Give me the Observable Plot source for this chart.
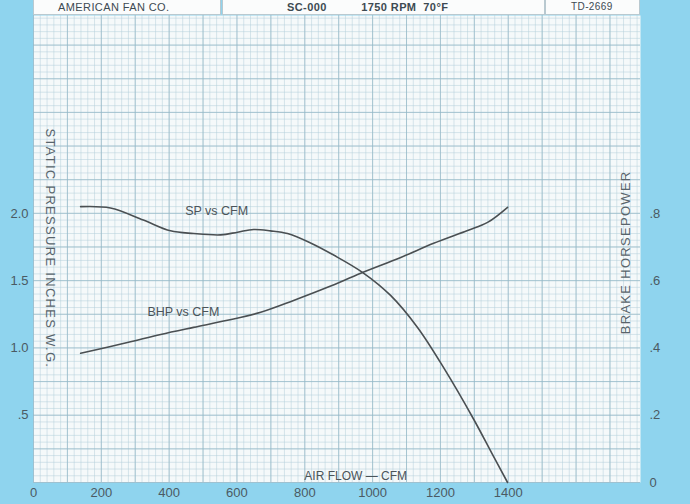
<!DOCTYPE html>
<html>
<head>
<meta charset="utf-8">
<script src="https://cdn.jsdelivr.net/npm/d3@7"></script>
<script src="https://cdn.jsdelivr.net/npm/@observablehq/plot@0.6"></script>
<style>
  html, body { margin: 0; padding: 0; background: #8fd4ee; }
  #wrap { position: relative; width: 690px; height: 504px; overflow: hidden; background: #8fd4ee; }
  #chart { position: absolute; left: 0; top: 0; }
  .hbox { position: absolute; top: 0; height: 15px; background: #fbfcfc; border: 1px solid #b9c9d0; border-top: none; box-sizing: border-box; }
  .hbox span { position: absolute; top: 1px; font: bold 11px/12px "Liberation Sans", Arial, sans-serif; color: #3d4a52; white-space: pre; letter-spacing: 0.4px; }
</style>
</head>
<body>
<div id="wrap">
  <div id="chart"></div>
  <div class="hbox" style="left:33px;width:188px;"><span style="left:24px;font-weight:normal;">AMERICAN FAN CO.</span></div>
  <div class="hbox" style="left:222px;width:323px;"><span style="left:64px;">SC-000          1750 RPM  70°F</span></div>
  <div class="hbox" style="left:545px;width:95px;"><span style="left:25px;font-weight:normal;font-size:10px;">TD-2669</span></div>
</div>
<script>
// Air flow (CFM) and static pressure (in. W.G.) for the SP vs CFM curve
const cfmSP = [139, 227, 324, 404, 472, 552, 602, 649, 699, 749, 817, 885, 971, 1053, 1133, 1209, 1298, 1351, 1398];
const sp    = [2.05, 2.04, 1.95, 1.87, 1.85, 1.84, 1.86, 1.88, 1.87, 1.85, 1.78, 1.69, 1.56, 1.39, 1.15, 0.855, 0.47, 0.22, 0.0];

// Air flow (CFM) and brake horsepower for the BHP vs CFM curve
const cfmBHP = [139, 277, 375, 472, 572, 670, 767, 867, 965, 1083, 1180, 1280, 1339, 1398];
const bhp    = [0.384, 0.416, 0.440, 0.461, 0.482, 0.506, 0.541, 0.580, 0.622, 0.669, 0.711, 0.749, 0.773, 0.818];

// Tick values and labels
const xTicks = [0, 200, 400, 600, 800, 1000, 1200, 1400];
const spTicks = [0.5, 1.0, 1.5, 2.0];
const spLabels = [".5", "1.0", "1.5", "2.0"];
const bhpTicks = [0, 0.2, 0.4, 0.6, 0.8];
const bhpLabels = ["0", ".2", ".4", ".6", ".8"];

// 0.8 BHP on the right axis lines up with 2.0 in. W.G. on the left axis
const bhpToSp = 2.5;

const spRows = cfmSP.map((c, i) => ({cfm: c, v: sp[i]}));
const bhpRows = cfmBHP.map((c, i) => ({cfm: c, v: bhp[i] * bhpToSp}));

const font = "'Liberation Sans', Arial, sans-serif";
const gridMinor = "#b4cfdb";
const gridMajor = "#93b6c6";
const tickColor = "#4b5a63";

const chart = Plot.plot({
  width: 690,
  height: 504,
  marginLeft: 33,
  marginRight: 50,
  marginTop: 15,
  marginBottom: 22,
  style: {background: "transparent", fontFamily: font, fontSize: "13px", color: tickColor},
  x: {domain: [0, 1790]},
  y: {domain: [0, 3.47]},
  marks: [
    Plot.frame({fill: "#f5f9fa", stroke: "none"}),
    Plot.gridX(d3.range(0, 1790, 20), {stroke: gridMinor, strokeOpacity: 0.5}),
    Plot.gridY(d3.range(0, 3.47, 0.05), {stroke: gridMinor, strokeOpacity: 0.5}),
    Plot.gridX(d3.range(0, 1790, 100), {stroke: gridMajor, strokeOpacity: 0.7}),
    Plot.gridY(d3.range(0, 3.47, 0.25), {stroke: gridMajor, strokeOpacity: 0.7}),
    Plot.axisX(xTicks, {tickSize: 0, tickPadding: 5, fill: tickColor, label: null,
      tickFormat: d => String(d)}),
    Plot.axisY(spTicks, {anchor: "left", tickSize: 0, tickPadding: 5, fill: tickColor, label: null,
      tickFormat: d => spLabels[spTicks.indexOf(d)]}),
    Plot.axisY(bhpTicks.map(v => v * bhpToSp), {anchor: "right", tickSize: 0, tickPadding: 9, fill: tickColor, label: null,
      tickFormat: d => bhpLabels[bhpTicks.findIndex(v => Math.abs(v * bhpToSp - d) < 1e-9)]}),
    Plot.line(spRows, {x: "cfm", y: "v", curve: "catmull-rom", stroke: "#4a4f52", strokeWidth: 1.6}),
    Plot.line(bhpRows, {x: "cfm", y: "v", curve: "catmull-rom", stroke: "#4a4f52", strokeWidth: 1.6}),
    Plot.text(["SP vs CFM"], {x: 540, y: 2.02, fontSize: 12.5, fill: "#4b5459"}),
    Plot.text(["BHP vs CFM"], {x: 442, y: 1.27, fontSize: 12.5, fill: "#4b5459"}),
    Plot.text(["AIR FLOW \u2014 CFM"], {x: 950, y: 0.045, fontSize: 12, fill: "#4b5459"}),
    Plot.text(["STATIC PRESSURE INCHES W.G."], {frameAnchor: "left", dx: 17, y: 1.74, rotate: 90,
      textAnchor: "middle", fontSize: 13, fill: "#58646b"}),
    Plot.text(["BRAKE HORSEPOWER"], {frameAnchor: "right", dx: -15, y: 1.71, rotate: -90,
      textAnchor: "middle", fontSize: 13, fill: "#58646b"})
  ]
});
d3.select(chart).selectAll("text")
  .filter(function () { return /^(STATIC|BRAKE)/.test(this.textContent); })
  .style("letter-spacing", "1.3px");
document.getElementById("chart").appendChild(chart);
</script>
</body>
</html>
